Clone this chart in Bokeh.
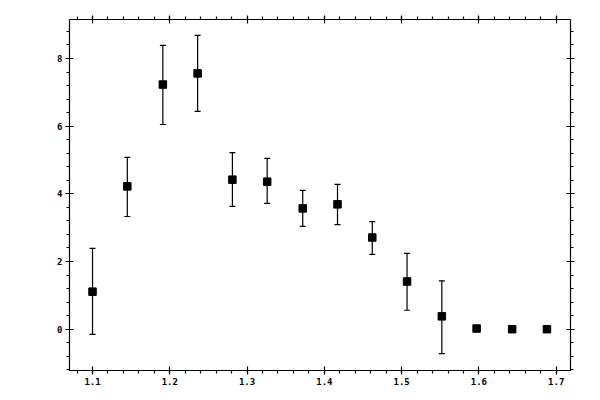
from bokeh.embed import file_html
from bokeh.models import (ColumnDataSource, CustomJSTickFormatter, LinearAxis,
                          Range1d, SingleIntervalTicker, TeeHead, Whisker)
from bokeh.plotting import figure
from bokeh.resources import INLINE

# values
x_vals = [1.100, 1.145, 1.191, 1.236, 1.281, 1.326, 1.372,
          1.417, 1.462, 1.507, 1.552, 1.597, 1.643, 1.688]
y_vals = [1.11, 4.22, 7.23, 7.56, 4.42, 4.36, 3.57,
          3.69, 2.71, 1.41, 0.38, 0.02, 0.0, 0.0]
y_upper = [2.39, 5.08, 8.39, 8.68, 5.22, 5.05, 4.10,
           4.28, 3.18, 2.24, 1.43, 0.07, 0.0, 0.0]
y_lower = [-0.15, 3.33, 6.05, 6.44, 3.63, 3.72, 3.04,
           3.09, 2.21, 0.56, -0.72, -0.03, 0.0, 0.0]

source = ColumnDataSource(dict(x=x_vals, y=y_vals, upper=y_upper, lower=y_lower))

p = figure(
    frame_width=501,
    frame_height=351,
    x_range=Range1d(1.0702, 1.7185),
    y_range=Range1d(-1.220, 9.152),
    toolbar_location=None,
    output_backend="svg",
    min_border_left=69,
    min_border_right=22,
    min_border_top=19,
    min_border_bottom=22,
    x_axis_location=None,
    y_axis_location=None,
)
p.outline_line_color = None
p.grid.grid_line_color = None
p.background_fill_color = "white"
p.border_fill_color = "white"


def style_axis(axis, labels=True):
    axis.axis_line_color = "black"
    axis.axis_line_width = 1.2
    axis.major_tick_line_color = "black"
    axis.minor_tick_line_color = "black"
    axis.major_tick_line_width = 1.2
    axis.minor_tick_line_width = 1.2
    axis.major_tick_in = 4
    axis.major_tick_out = 4
    axis.minor_tick_in = 0
    axis.minor_tick_out = 3
    axis.major_label_standoff = 3
    axis.major_label_text_font = "DejaVu Sans Mono"
    axis.major_label_text_font_size = "9px"
    axis.major_label_text_font_style = "bold"
    axis.major_label_text_color = "black"
    if not labels:
        axis.formatter = CustomJSTickFormatter(code="return ''")
        axis.major_label_standoff = 0


x_ticker = SingleIntervalTicker(interval=0.1, num_minor_ticks=5)
y_ticker = SingleIntervalTicker(interval=2, num_minor_ticks=5)

for place, lab in [("below", True), ("above", False)]:
    ax = LinearAxis(ticker=x_ticker)
    style_axis(ax, lab)
    p.add_layout(ax, place)

for place, lab in [("left", True), ("right", False)]:
    ax = LinearAxis(ticker=y_ticker)
    style_axis(ax, lab)
    p.add_layout(ax, place)

whisker = Whisker(
    source=source, base="x", upper="upper", lower="lower",
    line_color="black", line_width=1.2,
    upper_head=TeeHead(size=6, line_color="black", line_width=1.2),
    lower_head=TeeHead(size=6, line_color="black", line_width=1.2),
)
p.add_layout(whisker)

p.scatter(x="x", y="y", source=source, marker="square", size=7.5,
          fill_color="black", line_color="black")

open("out.html", "w").write(file_html(p, INLINE))
